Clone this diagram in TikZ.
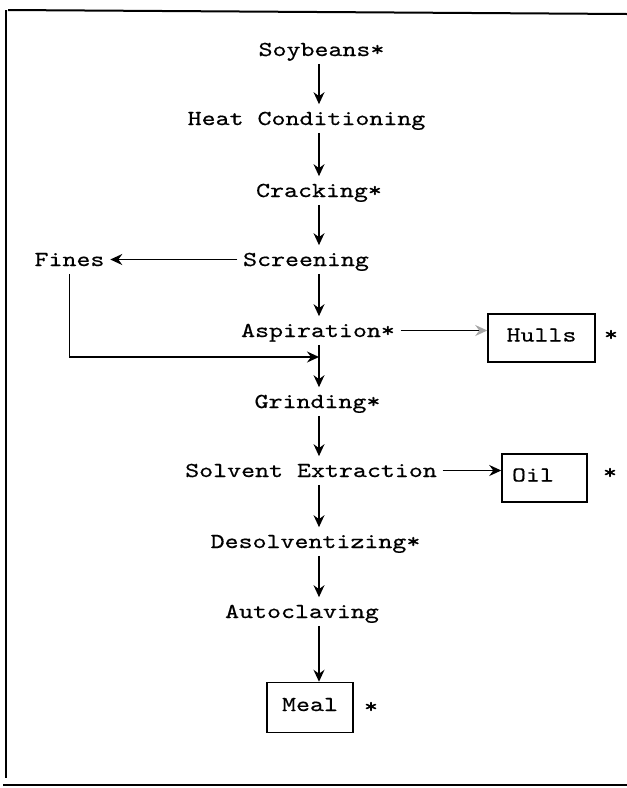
\documentclass[tikz,border=0pt]{standalone}
\usepackage{fontspec}
\setmonofont[FakeStretch=1.25,FakeBold=0.5]{lmmono10-regular.otf}
\usetikzlibrary{arrows.meta}

\begin{document}
\begin{tikzpicture}[
  x=0.5pt, y=-0.5pt,
  every node/.style={font=\fontsize{10.65pt}{12pt}\selectfont\ttfamily},
  stage/.style={anchor=base, inner xsep=2.5pt, inner ysep=3.5pt, text height=6.5pt, text depth=0pt},
  outbox/.style={draw, line width=0.75pt, inner sep=0pt, text height=6.5pt, text depth=3pt, minimum height=24pt},
  starnote/.style={anchor=base, inner sep=0pt},
  >={Stealth[length=6pt,width=5.5pt,inset=2pt]}, line width=0.85pt
]
\useasboundingbox (0,0) rectangle (627,788);

% page frame
\draw[line width=1pt]   (8,10) -- (627,14);
\draw[line width=0.75pt] (6,10) -- (6,778);
\draw[line width=0.9pt] (3,785) -- (627,785);

\coordinate (spine) at (319,0);
\coordinate (merge) at (319,357);

\node[stage] (soy)    at (321.5,56)  {Soybeans*};
\node[stage] (heat)   at (306.5,125) {Heat Conditioning};
\node[stage] (crack)  at (319,197)   {Cracking*};
\node[stage] (screen) at (306,266)   {Screening};
\node[stage] (fines)  at (69.5,266)  {Fines};
\node[stage] (asp)    at (318,337)   {Aspiration*};
\node[stage] (grind)  at (317.5,408) {Grinding*};
\node[stage] (solv)   at (311,477)   {Solvent Extraction};
\node[stage] (desolv) at (315.5,548) {Desolventizing*};
\node[stage] (auto)   at (302,618)   {Autoclaving};

\node[outbox, minimum width=53.5pt] (hulls) at (541.5,338) {Hulls};
\node[outbox, inner xsep=5pt, text width=32.5pt, align=left] (oil) at (544.5,478) {Oil};
\node[outbox, minimum width=43pt, minimum height=25pt] (meal) at (310,707.5) {Meal};
\node[starnote] (hullsstar) at (611,341) {*};
\node[starnote] (oilstar)   at (610,479) {*};
\node[starnote] (mealstar)  at (371,713) {*};

% main line of the process
\draw[->] (soy.south -| spine)    -- (heat.north -| spine);
\draw[->] (heat.south -| spine)   -- (crack.north -| spine);
\draw[->] (crack.south -| spine)  -- (screen.north -| spine);
\draw[->] (screen.south -| spine) -- (asp.north -| spine);
\draw[->] (asp.south -| spine)    -- (grind.north -| spine);
\draw[->] (grind.south -| spine)  -- (solv.north -| spine);
\draw[->] (solv.south -| spine)   -- (desolv.north -| spine);
\draw[->] (desolv.south -| spine) -- (auto.north -| spine);
\draw[->] (auto.south -| spine)   -- (meal.north -| spine);

% side streams
\draw[->] (screen.west) -- (fines.east);
\draw[->] (fines.south) |- (merge);
\draw[-{Stealth[length=6pt,width=5.5pt,inset=2pt,color=black!35]}] (asp.east) -- (asp.east -| hulls.west);
\draw[->] (solv.east) -- (solv.east -| oil.west);
\end{tikzpicture}
\end{document}
